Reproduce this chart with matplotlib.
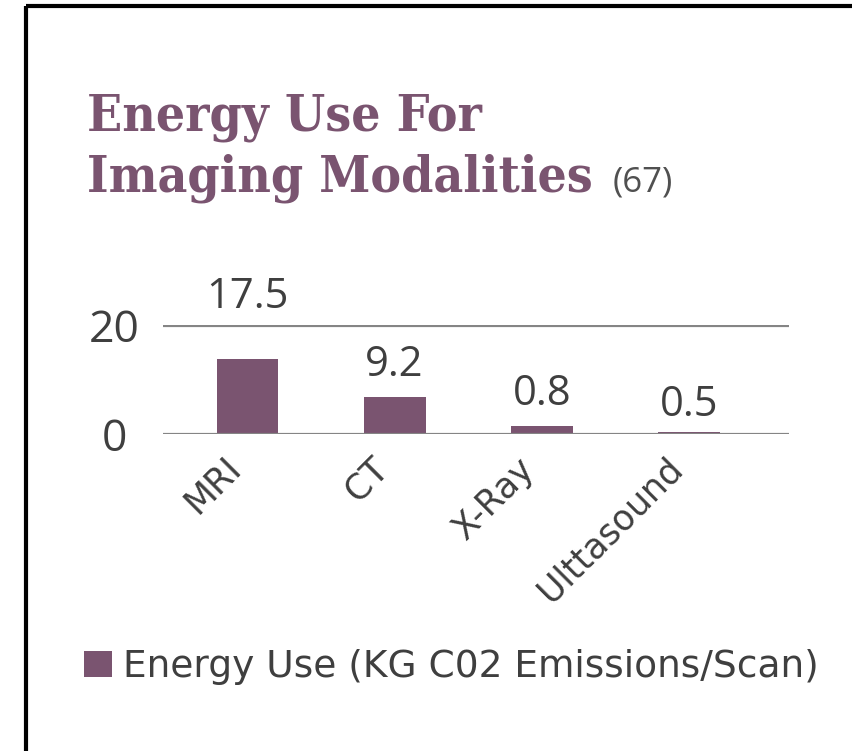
import matplotlib
matplotlib.use("Agg")
import matplotlib.pyplot as plt
from matplotlib.lines import Line2D

# ---- data ----
categories = ["MRI", "CT", "X-Ray", "Ulttasound"]
bar_heights = [13.7, 6.8, 1.5, 0.48]          # bar heights as drawn in the picture
value_labels = ["17.5", "9.2", "0.8", "0.5"]   # printed data labels
y_ticks = [0, 20]
series_name = "Energy Use (KG C02 Emissions/Scan)"
title_line1 = "Energy Use For"
title_line2 = "Imaging Modalities"
title_ref = "(67)"

# ---- style ----
W, H = 853, 751
PURPLE = "#7a5470"
TXT = "#3f3f3f"
GRID = "#858585"
NUMF = dict(family=["Open Sans", "DejaVu Sans"], weight="normal")
WIDEF = dict(family=["DejaVu Sans"], weight="normal")

fig = plt.figure(figsize=(W / 100, H / 100), dpi=100)
fig.patch.set_facecolor("white")

def fx(px):
    return px / W

def fy(py):
    return 1 - py / H

ax = fig.add_axes([fx(162.7), fy(434.3), fx(789) - fx(162.7), fy(325) - fy(434.3)])
x = list(range(len(categories)))
bars = ax.bar(x, bar_heights, width=0.42, color=PURPLE, zorder=2, label=series_name)
ax.set_xlim(-0.576, 3.68)
ax.set_ylim(0, 20)

for s in ax.spines.values():
    s.set_visible(False)
ax.set_yticks(y_ticks)
ax.yaxis.grid(True, color=GRID, linewidth=2.3, zorder=3)
ax.set_axisbelow(False)
ax.tick_params(axis="both", length=0)
ax.tick_params(axis="y", pad=35)
ax.tick_params(axis="x", pad=12)
ax.set_yticklabels([str(t) for t in y_ticks], fontsize=32, color=TXT, ha="center", **NUMF)
ax.set_xticks(x)
ax.set_xticklabels(categories, rotation=45, ha="right", va="top", fontsize=25, color=TXT, **WIDEF)

# data labels
label_offsets_px = [51, 21, 21, 16]
for rect, lab, off in zip(bars, value_labels, label_offsets_px):
    ax.annotate(lab, (rect.get_x() + rect.get_width() / 2, rect.get_height()),
                xytext=(0, off * 0.72), textcoords="offset points",
                ha="center", va="baseline", fontsize=30, color=TXT,
                annotation_clip=False, **NUMF)

# title
TFONT = dict(family="DejaVu Serif", weight="bold", stretch="condensed")
fig.text(fx(87), fy(130), title_line1, fontsize=37, color=PURPLE, va="baseline", **TFONT)
t2 = fig.text(fx(87), fy(191.7), title_line2, fontsize=37, color=PURPLE, va="baseline", **TFONT)
fig.canvas.draw()
bb = t2.get_window_extent()
fig.text((bb.x1 + 20) / W, fy(191.7), title_ref, fontsize=25, color="#505050",
         va="baseline", **NUMF)

# legend
leg = fig.legend(handles=[bars], labels=[series_name], loc="upper left",
                 bbox_to_anchor=(fx(84), fy(649)), frameon=False,
                 prop=dict(size=27, **WIDEF), handlelength=0.74, handleheight=0.72,
                 handletextpad=0.3, borderpad=0, borderaxespad=0)
for t in leg.get_texts():
    t.set_color(TXT)

# border (top & left visible)
fig.add_artist(Line2D([fx(26), 1.0], [fy(6), fy(6)], color="black", linewidth=3,
                      solid_capstyle="butt", transform=fig.transFigure))
fig.add_artist(Line2D([fx(26), fx(26)], [fy(6), 0.0], color="black", linewidth=3,
                      solid_capstyle="butt", transform=fig.transFigure))

fig.savefig("out.png", dpi=100)
